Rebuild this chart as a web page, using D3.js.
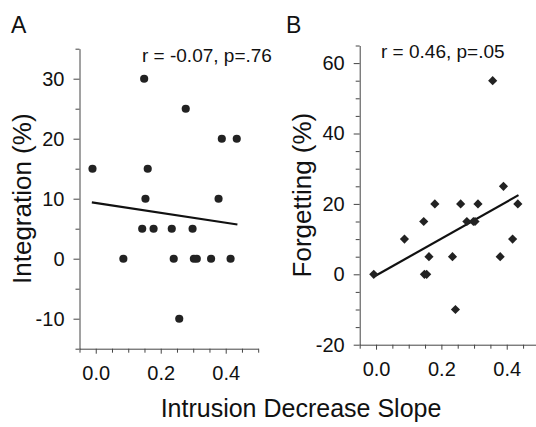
<!DOCTYPE html>
<html>
<head>
  <meta charset="utf-8">
  <title>Intrusion Decrease Slope</title>
  <style>
    body{
      margin: 0;
      background: #fff;
    }
    text{
      font-family: "Liberation Sans", Arial, sans-serif;
      fill: #111;
    }
  </style>
  <script src="https://d3js.org/d3.v7.min.js"></script>
</head>
<body>
  <div id="container"></div>
  <script>
    //*******DATA*******
    // panel A: integration vs intrusion decrease slope
    const slopeA = [-0.010, 0.085, 0.143, 0.149, 0.153, 0.160, 0.178, 0.234, 0.240, 0.257,
                    0.277, 0.298, 0.302, 0.311, 0.355, 0.378, 0.388, 0.415, 0.434];
    const integration = [15, 0, 5, 30, 10, 15, 5, 5, 0, -10,
                         25, 5, 0, 0, 0, 10, 20, 0, 20];
    const fitA = [[-0.012, 9.4], [0.436, 5.7]];
    const statA = "r = -0.07, p=.76";

    // panel B: forgetting vs intrusion decrease slope
    const slopeB = [-0.007, 0.087, 0.146, 0.148, 0.155, 0.162, 0.180, 0.234, 0.243, 0.259,
                    0.278, 0.298, 0.303, 0.312, 0.357, 0.380, 0.390, 0.418, 0.434];
    const forgetting = [0, 10, 15, 0, 0, 5, 20, 5, -10, 20,
                        15, 15, 15, 20, 55, 5, 25, 10, 20];
    const fitB = [[-0.007, -0.7], [0.436, 22.5]];
    const statB = "r = 0.46, p=.05";

    const xTicks = [0.0, 0.2, 0.4];
    const xMinor = [-0.05, 0.05, 0.1, 0.15, 0.25, 0.3, 0.35, 0.45, 0.5];
    const yTicksA = [-10, 0, 10, 20, 30];
    const yTicksB = [-20, 0, 20, 40, 60];

    //*******CONSTANTS*******
    const width = 536,
          height = 427;

    var svg = d3.select("#container")
      .append("svg")
      .attr("width", width)
      .attr("height", height);

    // draws one scatter panel
    function drawPanel(p){
      var x = d3.scaleLinear().domain([-0.05, 0.5]).range(p.xRange);
      var y = d3.scaleLinear().domain(p.yDomain).range(p.yRange);
      var g = svg.append("g");

      // minor ticks first, no labels
      g.append("g")
        .attr("transform", "translate(0," + p.yRange[0] + ")")
        .call(d3.axisBottom(x).tickValues(xMinor).tickSize(4).tickFormat(""))
        .call(a => a.select(".domain").remove());
      g.append("g")
        .attr("transform", "translate(" + p.xRange[0] + ",0)")
        .call(d3.axisLeft(y).tickValues(p.yMinor).tickSize(4).tickFormat(""))
        .call(a => a.select(".domain").remove());

      g.append("g")
        .attr("transform", "translate(0," + p.yRange[0] + ")")
        .call(d3.axisBottom(x).tickValues(xTicks).tickSize(5).tickSizeOuter(0)
          .tickPadding(12).tickFormat(d => d.toFixed(1)));
      g.append("g")
        .attr("transform", "translate(" + p.xRange[0] + ",0)")
        .call(d3.axisLeft(y).tickValues(p.yTicks).tickSize(6).tickSizeOuter(0)
          .tickPadding(9).tickFormat(d => String(d))); // plain hyphen like the original

      g.selectAll(".tick line, .domain").attr("stroke", "#444");
      g.selectAll(".tick text").attr("font-size", 20).attr("fill", "#111")
        .style("font-family", "'Liberation Sans', Arial, sans-serif");

      // fit line
      g.append("line")
        .attr("x1", x(p.fit[0][0])).attr("y1", y(p.fit[0][1]))
        .attr("x2", x(p.fit[1][0])).attr("y2", y(p.fit[1][1]))
        .attr("stroke", "#111")
        .attr("stroke-width", 2.2);

      // points
      var sym = d3.symbol().type(p.diamond ? d3.symbolSquare : d3.symbolCircle).size(p.diamond ? 42 : 52);
      g.selectAll("path.pt")
        .data(p.xs)
        .enter()
        .append("path")
        .attr("class", "pt")
        .attr("d", sym)
        .attr("fill", "#222")
        .attr("transform", function(d, i){
          return "translate(" + x(d) + "," + y(p.ys[i]) + ")" + (p.diamond ? " rotate(45)" : "");
        });

      g.append("text")
        .attr("x", p.statX).attr("y", p.statY)
        .attr("font-size", 19)
        .text(p.stat);

      g.append("text")
        .attr("x", p.letterX).attr("y", 33)
        .attr("font-size", 23)
        .text(p.letter);

      g.append("text")
        .attr("transform", "translate(" + p.labelX + "," + (p.yRange[0] + p.yRange[1]) / 2 + ") rotate(-90)")
        .attr("text-anchor", "middle")
        .attr("font-size", 26)
        .text(p.label);
    }

    drawPanel({
      xRange: [79.5, 258.2], yDomain: [-15, 35], yRange: [348.7, 48.7],
      yTicks: yTicksA, yMinor: [-15, -5, 5, 15, 25, 35],
      xs: slopeA, ys: integration, fit: fitA, diamond: false,
      stat: statA, statX: 142, statY: 62,
      letter: "A", letterX: 11, label: "Integration (%)", labelX: 31
    });

    drawPanel({
      xRange: [359.7, 539.4], yDomain: [-20, 65], yRange: [344.7, 45.5],
      yTicks: yTicksB, yMinor: [-15, -10, -5, 5, 10, 15, 25, 30, 35, 45, 50, 55, 65],
      xs: slopeB, ys: forgetting, fit: fitB, diamond: true,
      stat: statB, statX: 381, statY: 58,
      letter: "B", letterX: 286, label: "Forgetting (%)", labelX: 311
    });

    svg.append("text")
      .attr("x", 301).attr("y", 417)
      .attr("text-anchor", "middle")
      .attr("font-size", 25)
      .text("Intrusion Decrease Slope");
  </script>
</body>
</html>
